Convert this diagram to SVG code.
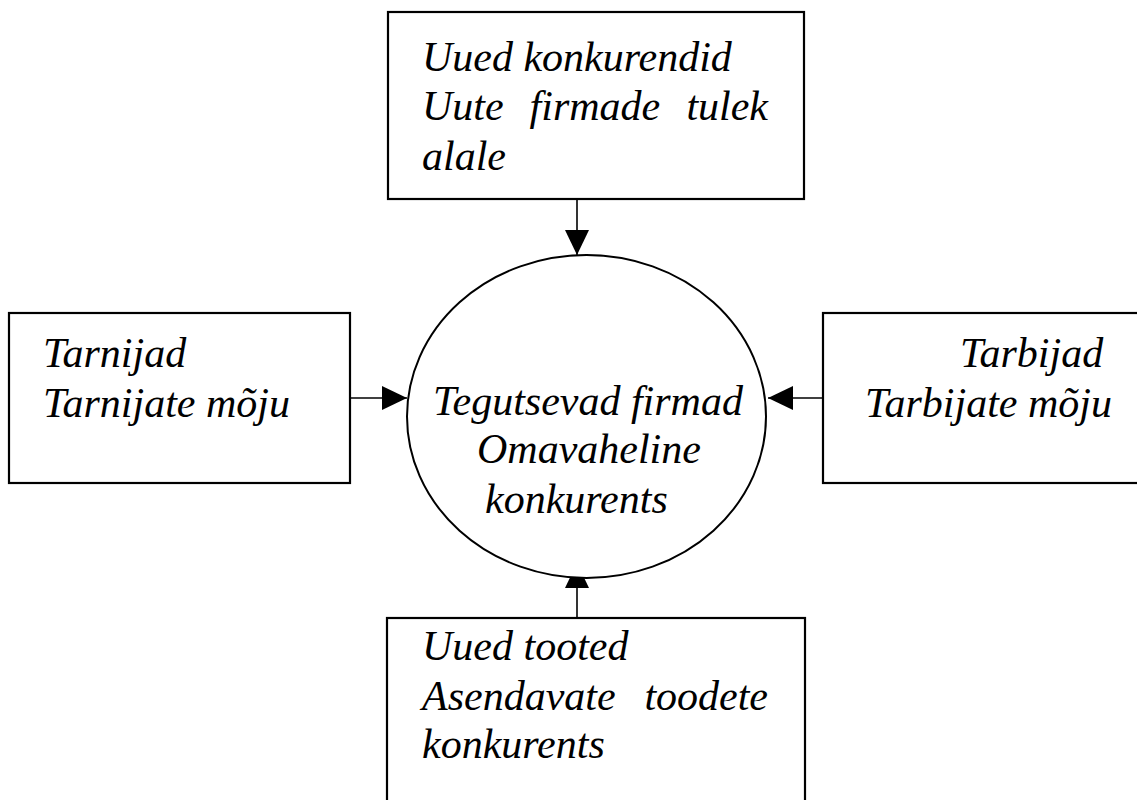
<svg xmlns="http://www.w3.org/2000/svg" width="1137" height="800" viewBox="0 0 1137 800">
  <style>
    .box { fill: #fff; stroke: #000; stroke-width: 2.2; }
    .hub { fill: #fff; stroke: #000; stroke-width: 2; }
    .conn { stroke: #000; stroke-width: 1.6; fill: none; }
    text { font-family: "Liberation Serif", "Times New Roman", serif; font-style: italic; font-size: 42px; fill: #000; }
  </style>
  <defs>
    <marker id="arrow" markerUnits="userSpaceOnUse" markerWidth="26" markerHeight="26" refX="25" refY="12" orient="auto">
      <path d="M0,0 L25,12 L0,24 Z" fill="#000"/>
    </marker>
  </defs>
  <rect width="1137" height="800" fill="#fff"/>

  <!-- connectors -->
  <g id="connectors">
    <line class="conn" x1="577" y1="199" x2="577" y2="255" marker-end="url(#arrow)"/>
    <line class="conn" x1="350" y1="398" x2="407" y2="398" marker-end="url(#arrow)"/>
    <line class="conn" x1="823" y1="398" x2="768" y2="398" marker-end="url(#arrow)"/>
    <line class="conn" x1="577" y1="618" x2="577" y2="563" marker-end="url(#arrow)"/>
  </g>

  <!-- centre: existing firms -->
  <g id="node-firms">
    <ellipse class="hub" cx="586.5" cy="416.5" rx="179.5" ry="161.5"/>
    <text x="433" y="415">Tegutsevad firmad</text>
    <text x="477" y="463">Omavaheline</text>
    <text x="485" y="513">konkurents</text>
  </g>

  <!-- top: new competitors -->
  <g id="node-new-competitors">
    <rect class="box" x="388" y="12" width="416" height="187"/>
    <text x="422" y="71">Uued konkurendid</text>
    <text y="120"><tspan x="422">Uute</tspan><tspan x="529.6">firmade</tspan><tspan x="686.4">tulek</tspan></text>
    <text x="422" y="170">alale</text>
  </g>

  <!-- left: suppliers -->
  <g id="node-suppliers">
    <rect class="box" x="9" y="313" width="341" height="170"/>
    <text x="43" y="367">Tarnijad</text>
    <text x="43" y="417">Tarnijate mõju</text>
  </g>

  <!-- right: buyers -->
  <g id="node-buyers">
    <rect class="box" x="823" y="313" width="330" height="170"/>
    <text x="960" y="367">Tarbijad</text>
    <text x="865" y="417">Tarbijate mõju</text>
  </g>

  <!-- bottom: substitute products -->
  <g id="node-substitutes">
    <rect class="box" x="387" y="618" width="418" height="200"/>
    <text x="422" y="660">Uued tooted</text>
    <text y="710"><tspan x="422">Asendavate</tspan><tspan x="644.4">toodete</tspan></text>
    <text x="422" y="758">konkurents</text>
  </g>
</svg>
